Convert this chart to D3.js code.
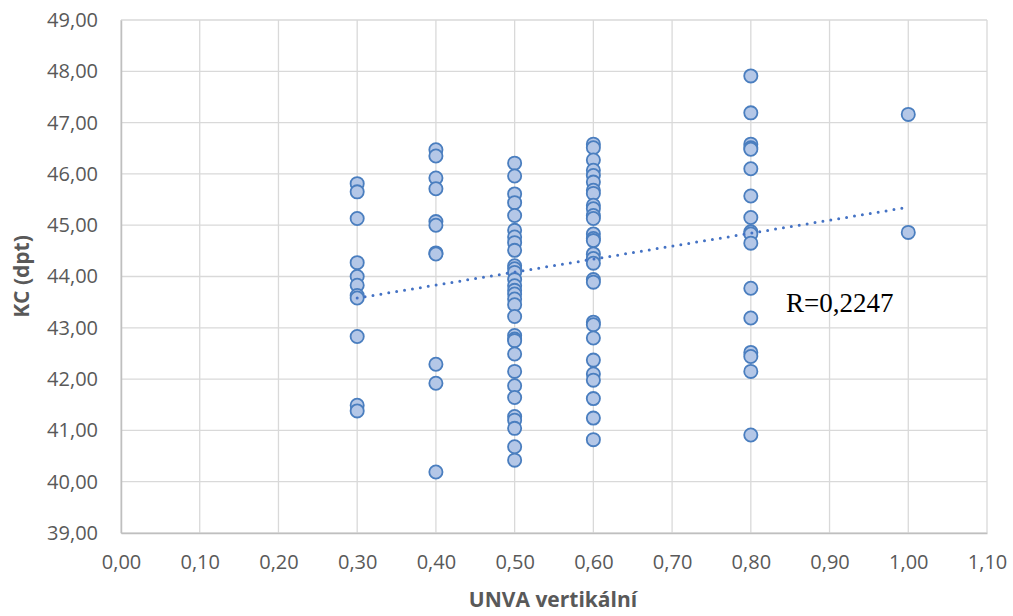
<!DOCTYPE html>
<html>
<head>
<meta charset="utf-8">
<script src="https://cdn.jsdelivr.net/npm/d3@7"></script>
<style>
  body { margin: 0; background: #fff; }
  svg text { font-family: "Open Sans", sans-serif; }
</style>
</head>
<body>
<div id="chart"></div>
<script>
// UNVA vertikální (x) vs KC in dioptres (y), one list per UNVA column
const col030 = [45.81, 45.65, 45.13, 44.27, 44.00, 43.83, 43.63, 43.58, 42.83, 41.49, 41.38];
const col040 = [46.47, 46.35, 45.92, 45.71, 45.07, 45.00, 44.46, 44.44, 42.29, 41.92, 40.19];
const col050 = [46.21, 45.96, 45.61, 45.44, 45.19, 44.90, 44.77, 44.66, 44.51, 44.21, 44.15,
                44.08, 43.94, 43.82, 43.73, 43.66, 43.56, 43.45, 43.22, 42.85, 42.78, 42.75,
                42.49, 42.15, 41.87, 41.64, 41.27, 41.20, 41.04, 40.68, 40.42];
const col060 = [46.58, 46.51, 46.27, 46.07, 45.97, 45.84, 45.68, 45.62, 45.39, 45.32, 45.19,
                45.13, 44.83, 44.74, 44.70, 44.44, 44.35, 44.26, 43.94, 43.89, 43.11, 43.06,
                42.80, 42.37, 42.10, 41.98, 41.62, 41.24, 40.82];
const col080 = [47.91, 47.19, 46.58, 46.51, 46.48, 46.10, 45.57, 45.15, 44.87, 44.83, 44.65,
                43.77, 43.19, 42.52, 42.44, 42.15, 40.91];
const col100 = [47.16, 44.86];

const columns = [[0.3, col030], [0.4, col040], [0.5, col050], [0.6, col060], [0.8, col080], [1.0, col100]];

// linear trend line (ends at the first and last column)
const trendX = [0.30, 1.00];
const trendY = [43.58, 45.35];

const xTicks = d3.range(0, 11.5, 1).map(d => d / 10);   // 0,00 .. 1,10
const yTicks = d3.range(39, 49.5, 1);                    // 39,00 .. 49,00
const rLabel = "R=0,2247";

const points = [];
columns.forEach(([x, ys]) => ys.forEach(y => points.push({x: x, y: y})));

const W = 1013, H = 616;
const m = {left: 121, right: 26, top: 20, bottom: 83};

const svg = d3.select('#chart').append('svg')
  .attr('width', W)
  .attr('height', H);

const x = d3.scaleLinear().domain([0, 1.1]).range([m.left, W - m.right]);
const y = d3.scaleLinear().domain([39, 49]).range([H - m.bottom, m.top]);

const fmt = d => d3.format('.2f')(d).replace('.', ',');

// gridlines
svg.append('g')
  .selectAll('line.h')
  .data(yTicks)
  .enter().append('line')
  .attr('x1', x(0)).attr('x2', x(1.1))
  .attr('y1', d => y(d)).attr('y2', d => y(d))
  .attr('stroke', '#d9d9d9').attr('stroke-width', 1.3);

svg.append('g')
  .selectAll('line.v')
  .data(xTicks)
  .enter().append('line')
  .attr('x1', d => x(d)).attr('x2', d => x(d))
  .attr('y1', y(39)).attr('y2', y(49))
  .attr('stroke', '#d9d9d9').attr('stroke-width', 1.3);

// axes (Excel style: grey lines, no tick marks)
const xAxis = svg.append('g')
  .attr('transform', `translate(0,${y(39)})`)
  .call(d3.axisBottom(x).tickValues(xTicks).tickFormat(fmt).tickSize(0).tickPadding(22));
xAxis.select('.domain').attr('stroke', '#bfbfbf').attr('stroke-width', 1.5);
xAxis.selectAll('text').attr('font-size', 20).attr('fill', '#595959');

const yAxis = svg.append('g')
  .attr('transform', `translate(${x(0)},0)`)
  .call(d3.axisLeft(y).tickValues(yTicks).tickFormat(fmt).tickSize(0).tickPadding(23));
yAxis.select('.domain').attr('stroke', '#bfbfbf').attr('stroke-width', 1.5);
yAxis.selectAll('text').attr('font-size', 20).attr('fill', '#595959');

// points
svg.append('g')
  .selectAll('circle')
  .data(points)
  .enter().append('circle')
  .attr('cx', d => x(d.x))
  .attr('cy', d => y(d.y))
  .attr('r', 6.6)
  .attr('fill', '#b4c7e7')
  .attr('stroke', '#4a7ebf')
  .attr('stroke-width', 1.8);

// dotted trend line
svg.append('line')
  .attr('x1', x(trendX[0])).attr('y1', y(trendY[0]))
  .attr('x2', x(trendX[1])).attr('y2', y(trendY[1]))
  .attr('stroke', '#4472c4')
  .attr('stroke-width', 3)
  .attr('stroke-linecap', 'round')
  .attr('stroke-dasharray', '0,8');

svg.append('text')
  .attr('x', 786).attr('y', 312)
  .style('font-family', '"Liberation Serif", serif')
  .attr('font-size', 27)
  .attr('fill', '#000')
  .text(rLabel);

// axis titles
svg.append('text')
  .attr('x', (x(0) + x(1.1)) / 2 - 1).attr('y', 607)
  .attr('text-anchor', 'middle')
  .attr('font-size', 21).attr('font-weight', 'bold')
  .attr('fill', '#595959')
  .text('UNVA vertikální');

svg.append('text')
  .attr('transform', `translate(29,${(y(39) + y(49)) / 2}) rotate(-90)`)
  .attr('text-anchor', 'middle')
  .attr('font-size', 21).attr('font-weight', 'bold')
  .attr('fill', '#595959')
  .text('KC (dpt)');
</script>
</body>
</html>
